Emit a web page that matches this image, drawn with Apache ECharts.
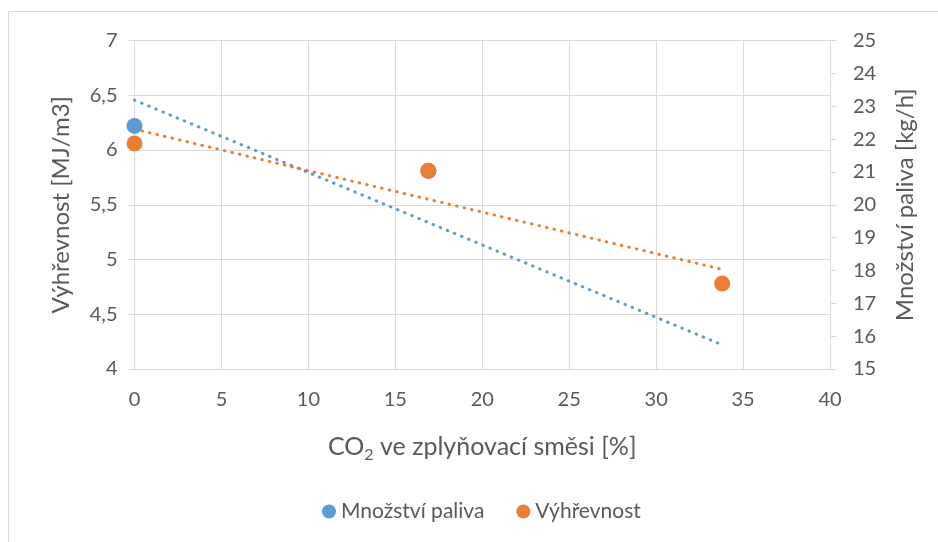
<!DOCTYPE html>
<html>
<head>
<meta charset="utf-8">
<script src="https://cdn.jsdelivr.net/npm/echarts@6/dist/echarts.min.js"></script>
<style>
  html, body { margin: 0; padding: 0; background: #fff; }
  #chart { width: 938px; height: 542px; }
</style>
</head>
<body>
<div id="chart"></div>
<script>
// CO2 share in the gasification mixture [%]
const co2Share = [0, 16.9, 33.8];
// Fuel consumption [kg/h] (right axis)
const fuelAmount = [22.40, 21.03, 14.95];
// Calorific value [MJ/m3] (left axis)
const heatingValue = [6.06, 5.81, 4.78];

const leftTicks = { min: 4, max: 7, interval: 0.5 };
const rightTicks = { min: 15, max: 25, interval: 1 };
const xTicks = { min: 0, max: 40, interval: 5 };

const BLUE = '#5B9BD5';
const ORANGE = '#ED7D31';
const TEXT = '#595959';
const GRID = '#d9d9d9';
const FONT = 'Lato, "Open Sans", sans-serif';

// Least-squares linear trend, drawn between the smallest and largest x
function linearTrend(xs, ys) {
  const n = xs.length;
  const mx = xs.reduce((a, b) => a + b, 0) / n;
  const my = ys.reduce((a, b) => a + b, 0) / n;
  let sxy = 0, sxx = 0;
  for (let i = 0; i < n; i++) {
    sxy += (xs[i] - mx) * (ys[i] - my);
    sxx += (xs[i] - mx) * (xs[i] - mx);
  }
  const k = sxy / sxx;
  const q = my - k * mx;
  const x0 = Math.min(...xs), x1 = Math.max(...xs);
  return [[x0, q + k * x0], [x1, q + k * x1]];
}

const pairs = (xs, ys) => xs.map((x, i) => [x, ys[i]]);
const fmtComma = v => String(v).replace('.', ',');

const chart = echarts.init(document.getElementById('chart'), null, { renderer: 'canvas' });

chart.setOption({
  animation: false,
  backgroundColor: '#fff',
  textStyle: { fontFamily: FONT },
  graphic: [{
    type: 'rect',
    z: -10,
    shape: { x: 8.5, y: 11.5, width: 1000, height: 1000 },
    style: { fill: 'none', stroke: GRID, lineWidth: 1 }
  }],
  grid: { left: 134.5, right: 108, top: 40.5, bottom: 173 },
  legend: {
    data: ['Množství paliva', 'Výhřevnost'],
    left: 317,
    top: 496,
    icon: 'circle',
    itemWidth: 14,
    itemHeight: 14,
    itemGap: 32,
    textStyle: { color: TEXT, fontSize: 21, fontFamily: FONT }
  },
  xAxis: {
    type: 'value',
    min: xTicks.min, max: xTicks.max, interval: xTicks.interval,
    name: 'CO{sub|2} ve zplyňovací směsi [%]',
    nameLocation: 'middle',
    nameGap: 61,
    nameTextStyle: {
      color: TEXT, fontSize: 25, fontFamily: FONT,
      rich: { sub: { fontSize: 16, verticalAlign: 'bottom', padding: [17, 0, 0, 0], color: TEXT, fontFamily: FONT } }
    },
    axisLine: { show: true, lineStyle: { color: GRID, width: 1 } },
    axisTick: { show: false },
    axisLabel: { color: TEXT, fontSize: 20, margin: 21, fontFamily: FONT },
    splitLine: { show: true, lineStyle: { color: GRID, width: 1 } }
  },
  yAxis: [{
    type: 'value',
    position: 'left',
    min: leftTicks.min, max: leftTicks.max, interval: leftTicks.interval,
    name: 'Výhřevnost [MJ/m3]',
    nameLocation: 'middle',
    nameRotate: 90,
    nameGap: 61,
    nameTextStyle: { color: TEXT, fontSize: 24, fontFamily: FONT },
    axisLine: { show: true, lineStyle: { color: GRID, width: 1 } },
    axisTick: { show: true, length: 6, lineStyle: { color: GRID } },
    axisLabel: { color: TEXT, fontSize: 20, margin: 17, fontFamily: FONT, formatter: fmtComma },
    splitLine: { show: true, lineStyle: { color: GRID, width: 1 } }
  }, {
    type: 'value',
    position: 'right',
    min: rightTicks.min, max: rightTicks.max, interval: rightTicks.interval,
    name: 'Množství paliva [kg/h]',
    nameLocation: 'middle',
    nameRotate: 90,
    nameGap: 63,
    nameTextStyle: { color: TEXT, fontSize: 24, fontFamily: FONT },
    axisLine: { show: true, lineStyle: { color: GRID, width: 1 } },
    axisTick: { show: true, length: 6, lineStyle: { color: GRID } },
    axisLabel: { color: TEXT, fontSize: 20, margin: 23, fontFamily: FONT },
    splitLine: { show: false }
  }],
  series: [{
    name: 'Množství paliva',
    type: 'scatter',
    yAxisIndex: 1,
    clip: true,
    symbol: 'circle',
    symbolSize: 16,
    itemStyle: { color: BLUE, opacity: 1 },
    data: pairs(co2Share, fuelAmount),
    z: 3
  }, {
    name: 'Výhřevnost',
    type: 'scatter',
    yAxisIndex: 0,
    clip: true,
    symbol: 'circle',
    symbolSize: 16,
    itemStyle: { color: ORANGE, opacity: 1 },
    data: pairs(co2Share, heatingValue),
    z: 4
  }, {
    name: 'trend-paliva',
    type: 'line',
    yAxisIndex: 1,
    symbol: 'none',
    silent: true,
    lineStyle: { color: BLUE, width: 3, type: [0.5, 7.2], cap: 'round' },
    data: linearTrend(co2Share, fuelAmount),
    z: 2
  }, {
    name: 'trend-vyhrevnost',
    type: 'line',
    yAxisIndex: 0,
    symbol: 'none',
    silent: true,
    lineStyle: { color: ORANGE, width: 3, type: [0.5, 7.2], cap: 'round' },
    data: linearTrend(co2Share, heatingValue),
    z: 2
  }]
});
</script>
</body>
</html>
